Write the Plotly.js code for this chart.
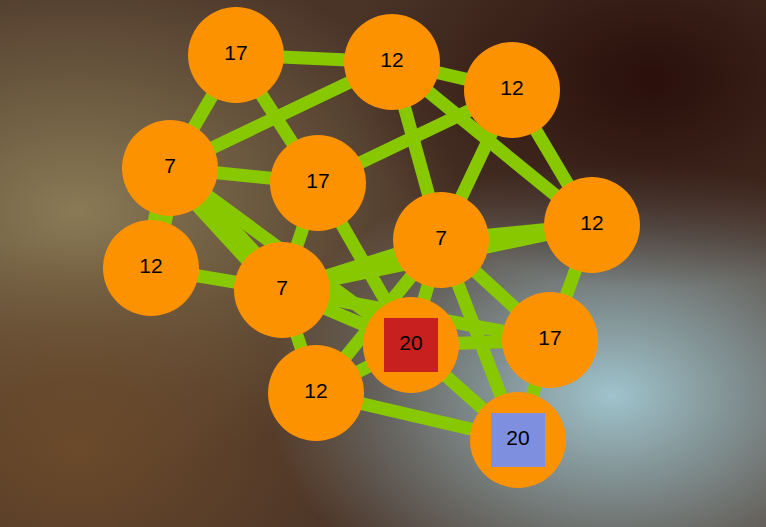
<!DOCTYPE html>
<html><head><meta charset="utf-8">
<script src="https://cdn.plot.ly/plotly-3.0.1.min.js"></script>
<style>html,body{margin:0;padding:0;background:#2a1c16}</style>
</head><body><div id="g" style="width:766px;height:527px"></div>
<script>
const nodeX = [236,392,512,170,318,592,441,151,282,411,550,316,518];
const nodeY = [55,62,90,168,183,225,240,268,290,345,340,393,440];
const nodeLabels = ["17","12","12","7","17","12","7","12","7","20","17","12","20"];
const edges = [[0,1],[0,3],[0,4],[1,2],[1,3],[1,6],[1,5],[2,4],[2,6],[2,5],[3,4],[3,7],[3,8],[3,9],[4,8],[4,9],[5,6],[5,10],[5,8],[6,8],[6,9],[6,10],[6,12],[7,8],[8,9],[8,10],[8,11],[9,11],[9,12],[9,10],[11,12],[10,12],[11,6]];
const thickEdges = [[3,8],[3,7]];
const specialIdx = [9,12];
const specialColors = ["#c8201f","#7f8fe0"];

const ex=[],ey=[];
edges.forEach(([a,b])=>{ex.push(nodeX[a],nodeX[b],null);ey.push(nodeY[a],nodeY[b],null);});
const tx=[],ty=[];
thickEdges.forEach(([a,b])=>{tx.push(nodeX[a],nodeX[b],null);ty.push(nodeY[a],nodeY[b],null);});

const svg = `<svg xmlns='http://www.w3.org/2000/svg' width='766' height='527'>
<defs>
<radialGradient id='a' cx='0.8' cy='0.75' r='0.45'><stop offset='0' stop-color='#9fc3cc'/><stop offset='1' stop-color='#9fc3cc' stop-opacity='0'/></radialGradient>
<radialGradient id='b' cx='0.1' cy='0.4' r='0.5'><stop offset='0' stop-color='#8a7a55'/><stop offset='1' stop-color='#8a7a55' stop-opacity='0'/></radialGradient>
<radialGradient id='c' cx='0.85' cy='0.15' r='0.4'><stop offset='0' stop-color='#2a0f0a'/><stop offset='1' stop-color='#2a0f0a' stop-opacity='0'/></radialGradient>
<radialGradient id='d' cx='0.1' cy='0.85' r='0.4'><stop offset='0' stop-color='#6b4a2a'/><stop offset='1' stop-color='#6b4a2a' stop-opacity='0'/></radialGradient>
</defs>
<rect width='766' height='527' fill='#4a3428'/>
<rect width='766' height='527' fill='url(#b)'/>
<rect width='766' height='527' fill='url(#d)'/>
<rect width='766' height='527' fill='url(#a)'/>
<rect width='766' height='527' fill='url(#c)'/>
</svg>`;
const bg = 'data:image/svg+xml;base64,' + btoa(svg);

const traces = [
 {x:ex,y:ey,mode:'lines',line:{color:'#88c800',width:13},hoverinfo:'skip'},
 {x:tx,y:ty,mode:'lines',line:{color:'#88c800',width:24},hoverinfo:'skip'},
 {x:nodeX,y:nodeY,mode:'markers',marker:{size:96,color:'#fd9200'},hoverinfo:'skip'},
 {x:specialIdx.map(i=>nodeX[i]),y:specialIdx.map(i=>nodeY[i]),mode:'markers',
  marker:{symbol:'square',size:54,color:specialColors},hoverinfo:'skip'},
 {x:nodeX,y:nodeY,mode:'text',text:nodeLabels,textfont:{family:'Liberation Sans, Arial',size:21,color:'#000'},hoverinfo:'skip'}
];
Plotly.newPlot('g',traces,{
 width:766,height:527,margin:{l:0,r:0,t:0,b:0},showlegend:false,
 paper_bgcolor:'#2a1c16',plot_bgcolor:'rgba(0,0,0,0)',
 xaxis:{range:[0,766],visible:false,fixedrange:true},
 yaxis:{range:[527,0],visible:false,fixedrange:true},
 images:[{source:bg,xref:'paper',yref:'paper',x:0,y:1,sizex:1,sizey:1,sizing:'stretch',layer:'below'}]
},{displayModeBar:false,staticPlot:true});
</script></body></html>
